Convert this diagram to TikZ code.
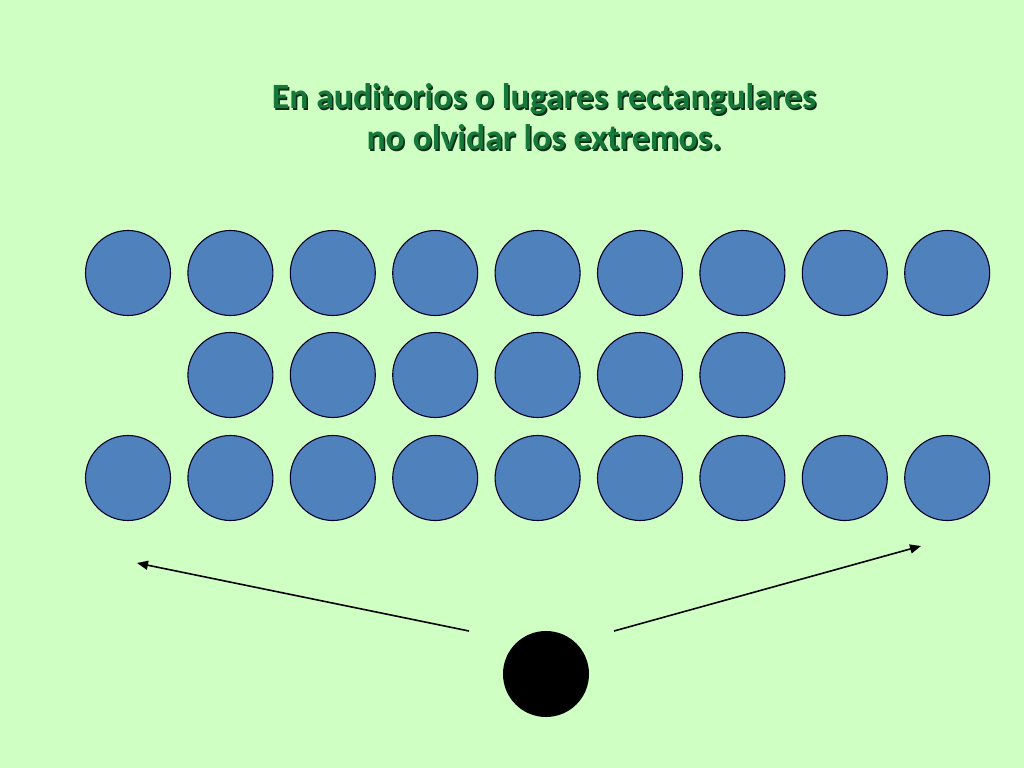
\documentclass[tikz,border=0pt]{standalone}
\usepackage{fontspec}
\setmainfont{Carlito}
\usetikzlibrary{arrows.meta}
\definecolor{bg}{RGB}{208,255,196}
\definecolor{seat}{RGB}{79,129,189}
\definecolor{titlegreen}{RGB}{22,120,58}
\tikzset{
  seatc/.style={circle, draw=black!85!blue, line width=1.1pt, fill=seat, minimum size=85bp, inner sep=0pt},
  speaker/.style={circle, fill=black, minimum size=86bp, inner sep=0pt},
  look/.style={-{Triangle[length=11bp,width=9bp]}, line width=1.6pt, black},
  titletext/.style={font=\bfseries\fontsize{35.7}{41}\selectfont, align=center}
}
\begin{document}
\begin{tikzpicture}[x=1bp,y=-1bp]
\fill[bg] (0,0) rectangle (1024,768);
\useasboundingbox (0,0) rectangle (1024,768);
\node[titletext, text=black!60!titlegreen] at (545.5,118.5) {En auditorios o lugares rectangulares\\no olvidar los extremos.};
\node[titletext, text=titlegreen] (title) at (544,117) {En auditorios o lugares rectangulares\\no olvidar los extremos.};
\foreach \i in {0,...,8} {
  \node[seatc] (a\i) at ({128+102.4*\i},273) {};
  \node[seatc] (c\i) at ({128+102.4*\i},478) {};
}
\foreach \i in {1,...,6} {
  \node[seatc] (b\i) at ({128+102.4*\i},375) {};
}
\node[speaker] (sp) at (546,674) {};
\coordinate (l0) at (469,631);
\coordinate (l1) at (137,563);
\coordinate (r0) at (614,631);
\coordinate (r1) at (921,546);
\draw[look] (l0) -- (l1);
\draw[look] (r0) -- (r1);
\end{tikzpicture}
\end{document}
